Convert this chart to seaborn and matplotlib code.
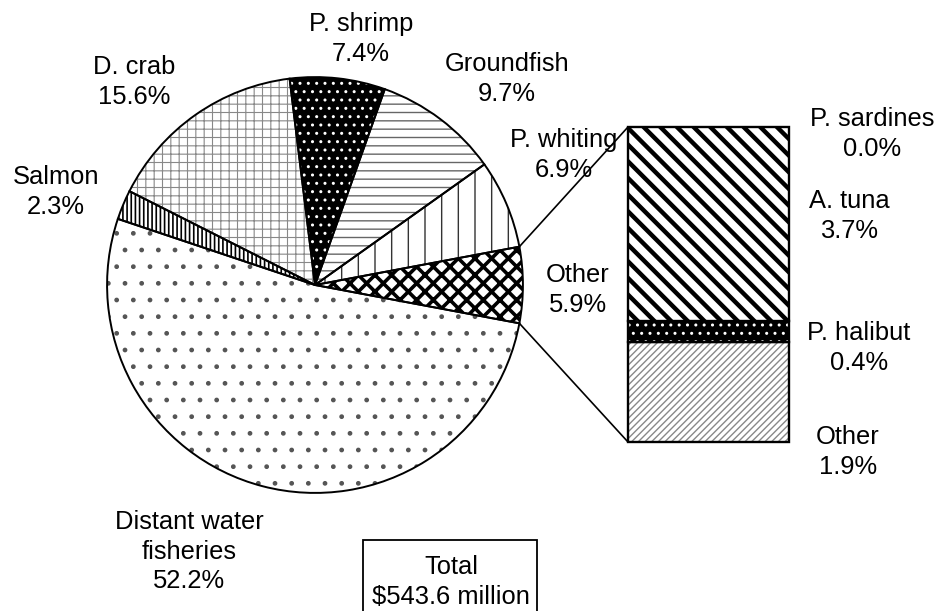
import numpy as np
import matplotlib.pyplot as plt
import seaborn as sns
from matplotlib.patches import ConnectionPatch, Rectangle

# pie of pie: revenue shares, total $543.6 million
pie_labels = ['Other', 'P. whiting', 'Groundfish', 'P. shrimp', 'D. crab', 'Salmon',
              'Distant water\nfisheries']
pie_pct = [5.9, 6.9, 9.7, 7.4, 15.6, 2.3, 52.2]
pie_face = ['white', 'white', 'white', 'black', 'white', 'white', 'white']
pie_hatch = ['xx', '|', '--', '..', '++', '||||', '.']
pie_hatch_col = ['black', '#333333', '#666666', 'white', '#888888', 'black', '#555555']
pie_hatch_lw = [2.6, 1.0, 1.0, 1.0, 0.8, 1.2, 1.0]
pie_label_xy = [(578, 287), (564, 152), (507, 76), (361, 36), (134, 79), (56, 189), (189, 549)]

# breakdown of "Other" (stacked bottom to top)
bar_labels = ['Other', 'P. halibut', 'A. tuna', 'P. sardines']
bar_pct = [1.9, 0.4, 3.7, 0.0]
bar_face = ['white', 'black', 'white', 'white']
bar_hatch = ['/////', '..', '\\\\', '']
bar_hatch_col = ['#888888', 'white', 'black', 'black']
bar_hatch_lw = [1.0, 1.0, 3.2, 1.0]
bar_label_xy = [(848, 449), (859, 345), (849, 213), (872, 131)]

total_text = 'Total\n\\$543.6 million'


def hatch_width(patch, lw):
    # per-patch hatch line width
    if hasattr(patch, 'set_hatch_linewidth'):
        patch.set_hatch_linewidth(lw)
    orig = patch.draw

    def draw(renderer):
        with plt.rc_context({'hatch.linewidth': lw}):
            orig(renderer)
    patch.draw = draw


sns.set_theme(style='white')
plt.rcParams['font.family'] = ['Liberation Sans', 'DejaVu Sans']

W, H = 940, 611
fig = plt.figure(figsize=(W / 100, H / 100), dpi=100)
fig.patch.set_facecolor('white')

# pie
ax_pie = fig.add_axes([105 / W, (H - 495) / H, 420 / W, 420 / H])
start = -pie_pct[0] / 100 * 360 / 2
wedges, _ = ax_pie.pie(pie_pct, startangle=start, counterclock=True,
                       wedgeprops=dict(linewidth=0))
for w, fc, hc, h, lw in zip(wedges, pie_face, pie_hatch_col, pie_hatch, pie_hatch_lw):
    w.set_facecolor(fc)
    w.set_edgecolor(hc)
    w.set_hatch(h)
    hatch_width(w, lw)
ax_pie.pie(pie_pct, startangle=start, counterclock=True,
           wedgeprops=dict(facecolor='none', edgecolor='black', linewidth=1.4))
ax_pie.set_xlim(-1.01, 1.01)
ax_pie.set_ylim(-1.01, 1.01)
ax_pie.axis('off')

# stacked bar
ax_bar = fig.add_axes([628 / W, (H - 442) / H, 161 / W, 315 / H])
bottoms = np.concatenate([[0], np.cumsum(bar_pct)[:-1]])
total = sum(bar_pct)
for val, b, fc, hc, h, lw in zip(bar_pct, bottoms, bar_face, bar_hatch_col,
                                  bar_hatch, bar_hatch_lw):
    if val <= 0:
        continue
    bars = ax_bar.bar(0, val, bottom=b, width=1, color=fc, edgecolor=hc,
                      hatch=h, linewidth=0)
    hatch_width(bars[0], lw)
    ax_bar.bar(0, val, bottom=b, width=1, color='none', edgecolor='black', linewidth=1.7)
ax_bar.set_xlim(-0.5, 0.5)
ax_bar.set_ylim(0, total)
ax_bar.axis('off')
for c in ax_bar.patches:
    c.set_clip_on(False)

# connector lines
ang = np.deg2rad(pie_pct[0] / 100 * 360 / 2)
for sgn, yb in ((1, 1), (-1, 0)):
    con = ConnectionPatch(xyA=(np.cos(ang), sgn * np.sin(ang)), coordsA=ax_pie.transData,
                          xyB=(0, yb), coordsB=ax_bar.transAxes,
                          color='black', linewidth=1.2)
    fig.add_artist(con)

# text overlay in pixel coordinates
ax_txt = fig.add_axes([0, 0, 1, 1], zorder=-1)
ax_txt.set_xlim(0, W)
ax_txt.set_ylim(H, 0)
ax_txt.axis('off')
ax_txt.patch.set_alpha(0)

fs = 18.4
for lab, pct, (x, y) in zip(pie_labels, pie_pct, pie_label_xy):
    ax_txt.text(x, y + 2.7, f'{lab}\n{pct:.1f}%', ha='center', va='center',
                fontsize=fs, linespacing=1.3, color='black')
for lab, pct, (x, y) in zip(bar_labels, bar_pct, bar_label_xy):
    ax_txt.text(x, y + 2.7, f'{lab}\n{pct:.1f}%', ha='center', va='center',
                fontsize=fs, linespacing=1.3, color='black')

ax_txt.add_patch(Rectangle((363, 540), 174, 90, facecolor='white', edgecolor='black',
                           linewidth=1.3))
ax_txt.text(451, 581.7, total_text, ha='center', va='center', fontsize=fs,
            linespacing=1.3, color='black')

fig.savefig('out.png', dpi=100, facecolor='white')
